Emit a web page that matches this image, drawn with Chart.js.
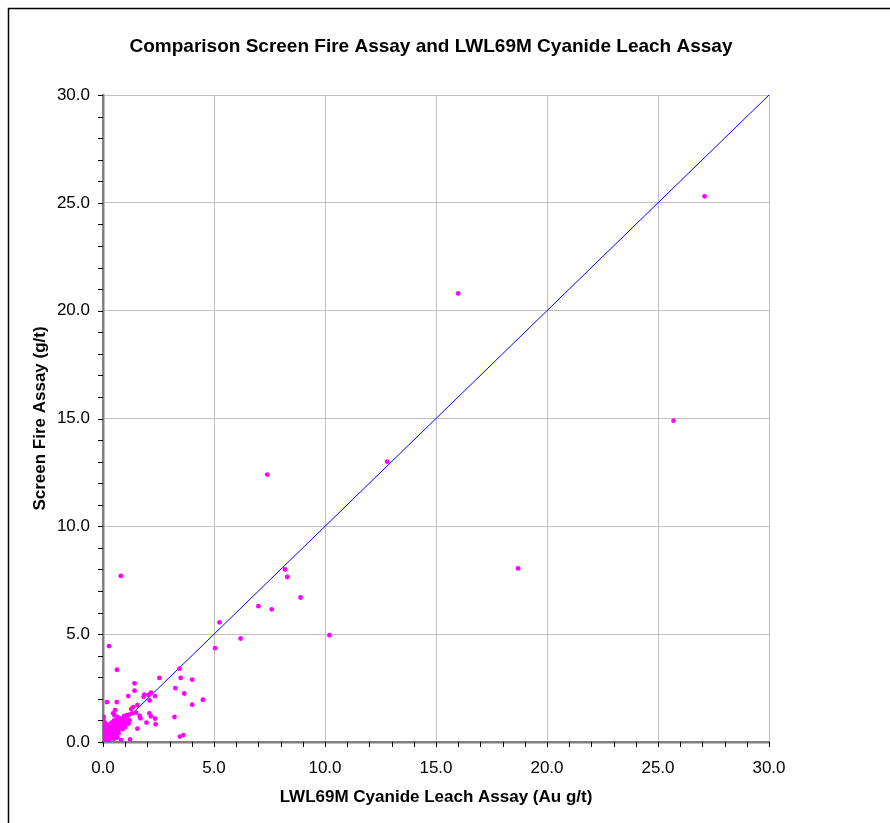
<!DOCTYPE html>
<html>
<head>
<meta charset="utf-8">
<script src="https://cdn.jsdelivr.net/npm/chart.js@4.4.1/dist/chart.umd.min.js"></script>
<style>
  html, body { margin: 0; padding: 0; background: #fff; }
  #wrap { width: 890px; height: 823px; position: relative; }
</style>
</head>
<body>
<div id="wrap"><canvas id="assayChart" width="890" height="823"></canvas></div>
<script>
// Au values (g/t)
const cyanideLeach = [
    27.1, 16.0, 25.7, 7.4, 12.8, 18.7, 0.8, 8.2, 8.3, 8.9, 7.0, 7.6, 5.25, 10.2, 6.2, 5.05, 0.27, 0.63, 3.45,
    2.54, 3.5, 4.02, 1.42, 1.42, 3.26, 3.66, 4.5, 4.02, 1.14, 1.83, 1.86, 2.05, 2.16, 2.34, 2.1, 0.18, 0.62,
    1.55, 1.36, 1.27, 0.54, 0.46, 0.51, 1.49, 1.19, 1.31, 2.09, 2.16, 1.65, 1.69, 2.35, 3.22, 0.95, 1.07,
    0.64, 0.03, 1.96, 2.37, 1.55, 3.47, 3.62, 1.22, 0.82,
    0.05, 0.1, 0.02, 0.15, 0.2, 0.1, 0.25, 0.3, 0.35, 0.05, 0.15, 0.4, 0.45, 0.5, 0.55, 0.6, 0.65, 0.7,
    0.75, 0.8, 0.85, 0.9, 0.95, 1.0, 1.05, 1.1, 0.3, 0.2, 0.08, 0.4, 0.6, 0.5, 0.7, 0.25, 0.35, 0.12,
    0.18, 0.28, 0.02, 0.0, 0.03, 0.07, 0.45, 0.55, 0.62, 0.72, 0.8, 0.9, 1.0, 0.65, 0.15, 0.38, 0.5,
    0.22, 0.33, 0.42, 0.58, 0.78, 0.88, 0.98, 1.15, 1.2, 0.1, 0.05, 0.48, 0.68, 0.02
];
const screenFire = [
    25.3, 20.8, 14.9, 12.4, 13.0, 8.05, 7.7, 8.0, 7.65, 6.7, 6.3, 6.15, 5.55, 4.95, 4.8, 4.35, 4.45, 3.35, 3.4,
    2.97, 2.97, 2.89, 2.72, 2.38, 2.5, 2.25, 1.96, 1.73, 2.13, 2.1, 2.19, 2.18, 2.29, 2.13, 1.93, 1.85, 1.85,
    1.71, 1.62, 1.53, 1.48, 1.33, 1.24, 1.36, 1.27, 1.33, 1.33, 1.19, 1.21, 1.1, 1.08, 1.16, 1.2, 1.24,
    1.16, 1.16, 0.9, 0.82, 0.62, 0.25, 0.32, 0.12, 0.09,
    0.05, 0.02, 0.15, 0.1, 0.25, 0.35, 0.15, 0.4, 0.3, 0.5, 0.6, 0.5, 0.35, 0.55, 0.45, 0.6, 0.7, 0.55,
    0.8, 0.7, 0.9, 0.8, 1.0, 0.9, 0.95, 1.05, 0.7, 0.8, 0.9, 0.2, 0.3, 0.15, 0.4, 0.5, 0.6, 0.25,
    0.42, 0.05, 0.3, 0.0, 0.08, 0.18, 0.75, 0.85, 0.95, 1.0, 1.1, 0.6, 0.7, 0.2, 0.75, 0.9, 1.0,
    0.32, 0.18, 0.62, 0.5, 0.62, 0.72, 0.82, 0.85, 1.0, 0.6, 0.7, 0.28, 0.82, 1.0
];
// 1:1 reference line
const lineX = [0, 30];
const lineY = [0, 30];

const chartTitle = 'Comparison Screen Fire Assay and LWL69M Cyanide Leach Assay';
const xTitle = 'LWL69M Cyanide Leach Assay (Au g/t)';
const yTitle = 'Screen Fire Assay (g/t)';

const FONT = '"Liberation Sans", Arial, sans-serif';
const TICK_LEN = 5;

const pts = cyanideLeach.map((x, i) => ({ x, y: screenFire[i] }));
const linePts = lineX.map((x, i) => ({ x, y: lineY[i] }));

// frame + title drawn on the canvas, tick marks (major and minor) on top
const framePlugin = {
    id: 'frame',
    beforeDraw(chart) {
        const c = chart.ctx;
        c.save();
        c.fillStyle = '#fff';
        c.fillRect(0, 0, chart.width, chart.height);
        c.strokeStyle = '#000';
        c.lineWidth = 1.5;
        c.beginPath();
        c.moveTo(8.5, chart.height);
        c.lineTo(8.5, 8.5);
        c.lineTo(chart.width, 8.5);
        c.stroke();
        c.fillStyle = '#000';
        c.font = 'bold 19px ' + FONT;
        c.textAlign = 'center';
        c.textBaseline = 'middle';
        c.fillText(chartTitle, 431, 47);
        c.restore();
    },
    afterDraw(chart) {
        const c = chart.ctx;
        const { x, y } = chart.scales;
        const area = chart.chartArea;
        c.save();
        c.strokeStyle = '#000';
        c.lineWidth = 1;
        c.beginPath();
        x.ticks.forEach(t => {
            const px = Math.round(x.getPixelForValue(t.value)) + 0.5;
            c.moveTo(px, area.bottom);
            c.lineTo(px, area.bottom + TICK_LEN);
        });
        y.ticks.forEach(t => {
            const py = Math.round(y.getPixelForValue(t.value)) + 0.5;
            c.moveTo(area.left, py);
            c.lineTo(area.left - TICK_LEN, py);
        });
        c.stroke();
        c.restore();
    }
};

const isMajor = v => Math.abs(v % 5) < 1e-6;

new Chart(document.getElementById('assayChart'), {
    type: 'scatter',
    data: {
        datasets: [
            {
                label: 'Assays',
                data: pts,
                backgroundColor: '#FF00FF',
                borderWidth: 0,
                pointRadius: 2.4,
                order: 1
            },
            {
                type: 'line',
                label: '1:1',
                data: linePts,
                borderColor: '#0000FF',
                borderWidth: 1,
                pointRadius: 0,
                fill: false,
                order: 2
            }
        ]
    },
    options: {
        responsive: false,
        animation: false,
        layout: { padding: { left: 0, right: 121, top: 95, bottom: 0 } },
        plugins: {
            legend: { display: false },
            tooltip: { enabled: false }
        },
        scales: {
            x: {
                type: 'linear',
                min: 0, max: 30,
                afterFit: s => { s.height = 81; },
                border: { color: '#808080', width: 2.5 },
                grid: {
                    color: ctx => isMajor(ctx.tick.value) && ctx.tick.value > 0 ? '#c0c0c0' : 'rgba(0,0,0,0)',
                    drawTicks: false
                },
                ticks: {
                    stepSize: 1,
                    autoSkip: false,
                    maxRotation: 0,
                    padding: 16,
                    color: '#000',
                    font: { family: FONT, size: 17 },
                    callback: v => isMajor(v) ? v.toFixed(1) : ''
                },
                title: {
                    display: true,
                    text: xTitle,
                    color: '#000',
                    font: { family: FONT, size: 17, weight: 'bold' },
                    padding: { top: 0, bottom: 15.8 }
                }
            },
            y: {
                type: 'linear',
                min: 0, max: 30,
                afterFit: s => { s.width = 103; },
                border: { color: '#808080', width: 2.5 },
                grid: {
                    color: ctx => isMajor(ctx.tick.value) && ctx.tick.value > 0 ? '#c0c0c0' : 'rgba(0,0,0,0)',
                    drawTicks: false
                },
                ticks: {
                    stepSize: 1,
                    autoSkip: false,
                    padding: 13,
                    color: '#000',
                    font: { family: FONT, size: 17 },
                    callback: v => isMajor(v) ? v.toFixed(1) : ''
                },
                title: {
                    display: true,
                    text: yTitle,
                    color: '#000',
                    font: { family: FONT, size: 17, weight: 'bold' },
                    padding: { top: 29.8, bottom: 0 }
                }
            }
        }
    },
    plugins: [framePlugin]
});
</script>
</body>
</html>
